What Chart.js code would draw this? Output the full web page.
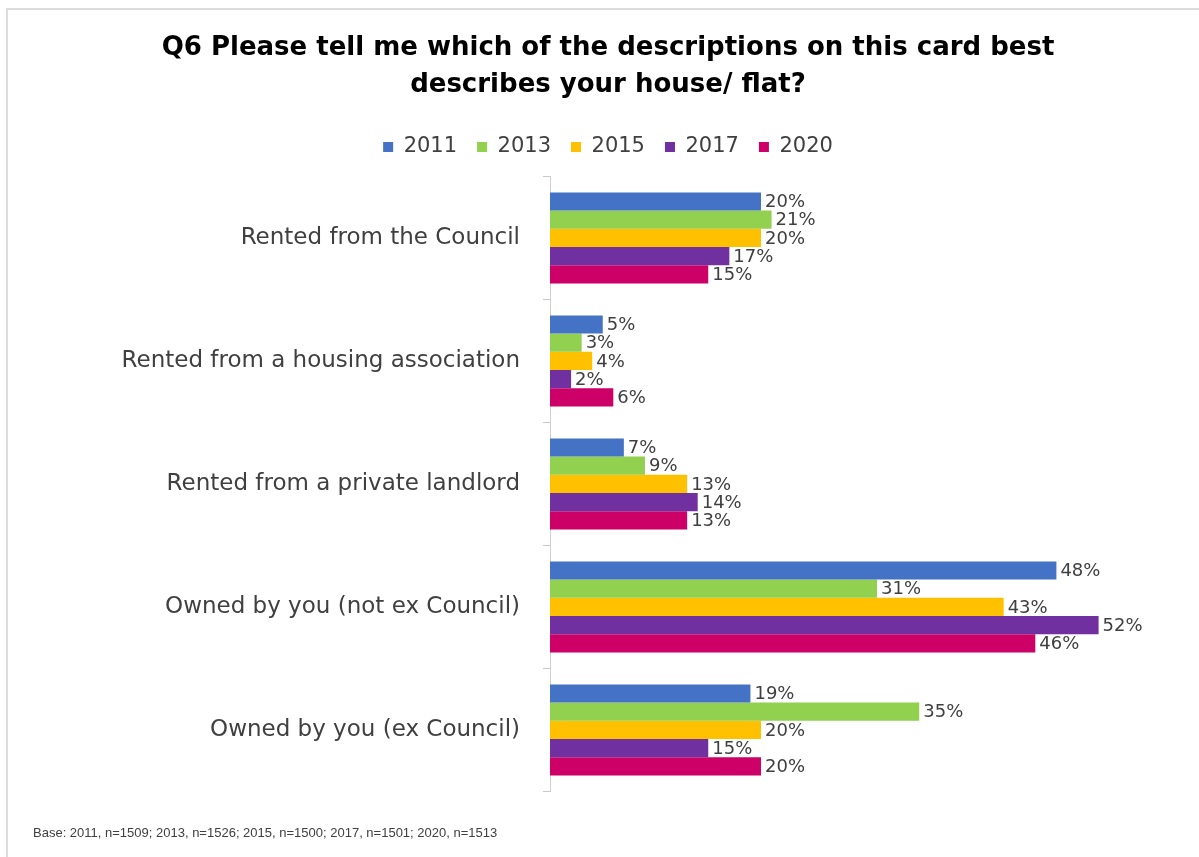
<!DOCTYPE html>
<html>
<head>
<meta charset="utf-8">
<script src="https://cdn.jsdelivr.net/npm/chart.js@4.4.1/dist/chart.umd.min.js"></script>
<style>
  html, body { margin: 0; padding: 0; background: #fff; }
  #wrap { position: relative; width: 1199px; height: 857px; overflow: hidden; }
  #frame { position: absolute; left: 6px; top: 8px; width: 1300px; height: 1000px;
           border-left: 2px solid #dcdcdc; border-top: 2px solid #dcdcdc; }
  #canvas { position: absolute; left: 0; top: 0; }
</style>
</head>
<body>
<div id="wrap">
  <div id="frame"></div>
  <canvas id="canvas" width="1199" height="857"></canvas>
</div>
<script>
// housing tenure by survey year (percent)
var categories = ["Rented from the Council", "Rented from a housing association",
  "Rented from a private landlord", "Owned by you (not ex Council)", "Owned by you (ex Council)"];
var years = ["2011", "2013", "2015", "2017", "2020"];
var values2011 = [20, 5, 7, 48, 19];
var values2013 = [21, 3, 9, 31, 35];
var values2015 = [20, 4, 13, 43, 20];
var values2017 = [17, 2, 14, 52, 15];
var values2020 = [15, 6, 13, 46, 20];
var colours = ["#4472C4", "#92D050", "#FFC000", "#7030A0", "#CC0066"];

var allValues = [values2011, values2013, values2015, values2017, values2020];
var datasets = [];
for (var i = 0; i < years.length; i++) {
  datasets.push({
    label: years[i],
    data: allValues[i],
    backgroundColor: colours[i],
    borderWidth: 0
  });
}

var textFont = "'DejaVu Sans', sans-serif";

// percent labels at the end of every bar
var barLabels = {
  id: 'barLabels',
  afterDatasetsDraw: function(chart) {
    var ctx = chart.ctx;
    ctx.save();
    ctx.font = "18px " + textFont;
    ctx.fillStyle = "#404040";
    ctx.textBaseline = "middle";
    ctx.textAlign = "left";
    chart.data.datasets.forEach(function(ds, d) {
      chart.getDatasetMeta(d).data.forEach(function(bar, j) {
        ctx.fillText(ds.data[j] + "%", bar.x + 4, bar.y + 1);
      });
    });
    ctx.restore();
  }
};

// a bit more room under the legend
var legendGap = {
  id: 'legendGap',
  beforeInit: function(chart) {
    var fit = chart.legend.fit;
    chart.legend.fit = function() {
      fit.bind(chart.legend)();
      this.height += 9;
    };
  }
};

var ctx = document.getElementById("canvas").getContext("2d");
window.myBar = new Chart(ctx, {
  type: 'bar',
  data: { labels: categories, datasets: datasets },
  plugins: [barLabels, legendGap],
  options: {
    indexAxis: 'y',
    responsive: false,
    animation: false,
    layout: { padding: { left: 33, right: 16, top: 18, bottom: 10 } },
    datasets: { bar: { categoryPercentage: 0.74, barPercentage: 1.0 } },
    plugins: {
      title: {
        display: true,
        text: ["Q6 Please tell me which of the descriptions on this card best", "describes your house/ flat?"],
        color: "#000",
        font: { family: textFont, size: 26, weight: 'bold', lineHeight: 1.45 },
        padding: { top: 11, bottom: 12 }
      },
      legend: {
        display: true,
        position: 'top',
        labels: {
          boxWidth: 10, boxHeight: 10,
          color: "#404040",
          font: { family: textFont, size: 21 },
          padding: 20
        }
      },
      subtitle: {
        display: true,
        position: 'bottom',
        align: 'start',
        text: "Base: 2011, n=1509; 2013, n=1526; 2015, n=1500; 2017, n=1501; 2020, n=1513",
        color: "#404040",
        font: { family: "'Liberation Sans', sans-serif", size: 13 },
        padding: { top: 34, bottom: 6 }
      },
      tooltip: { enabled: false }
    },
    scales: {
      x: { display: false, min: 0, max: 60 },
      y: {
        afterFit: function(scale) { scale.width = 517; },
        grid: { display: true, drawOnChartArea: false, color: "#c8c8c8", tickLength: 7, offset: true },
        border: { display: true, color: "#d0d0d0", width: 1 },
        ticks: { color: "#404040", font: { family: textFont, size: 23 }, padding: 23 }
      }
    }
  }
});
</script>
</body>
</html>
